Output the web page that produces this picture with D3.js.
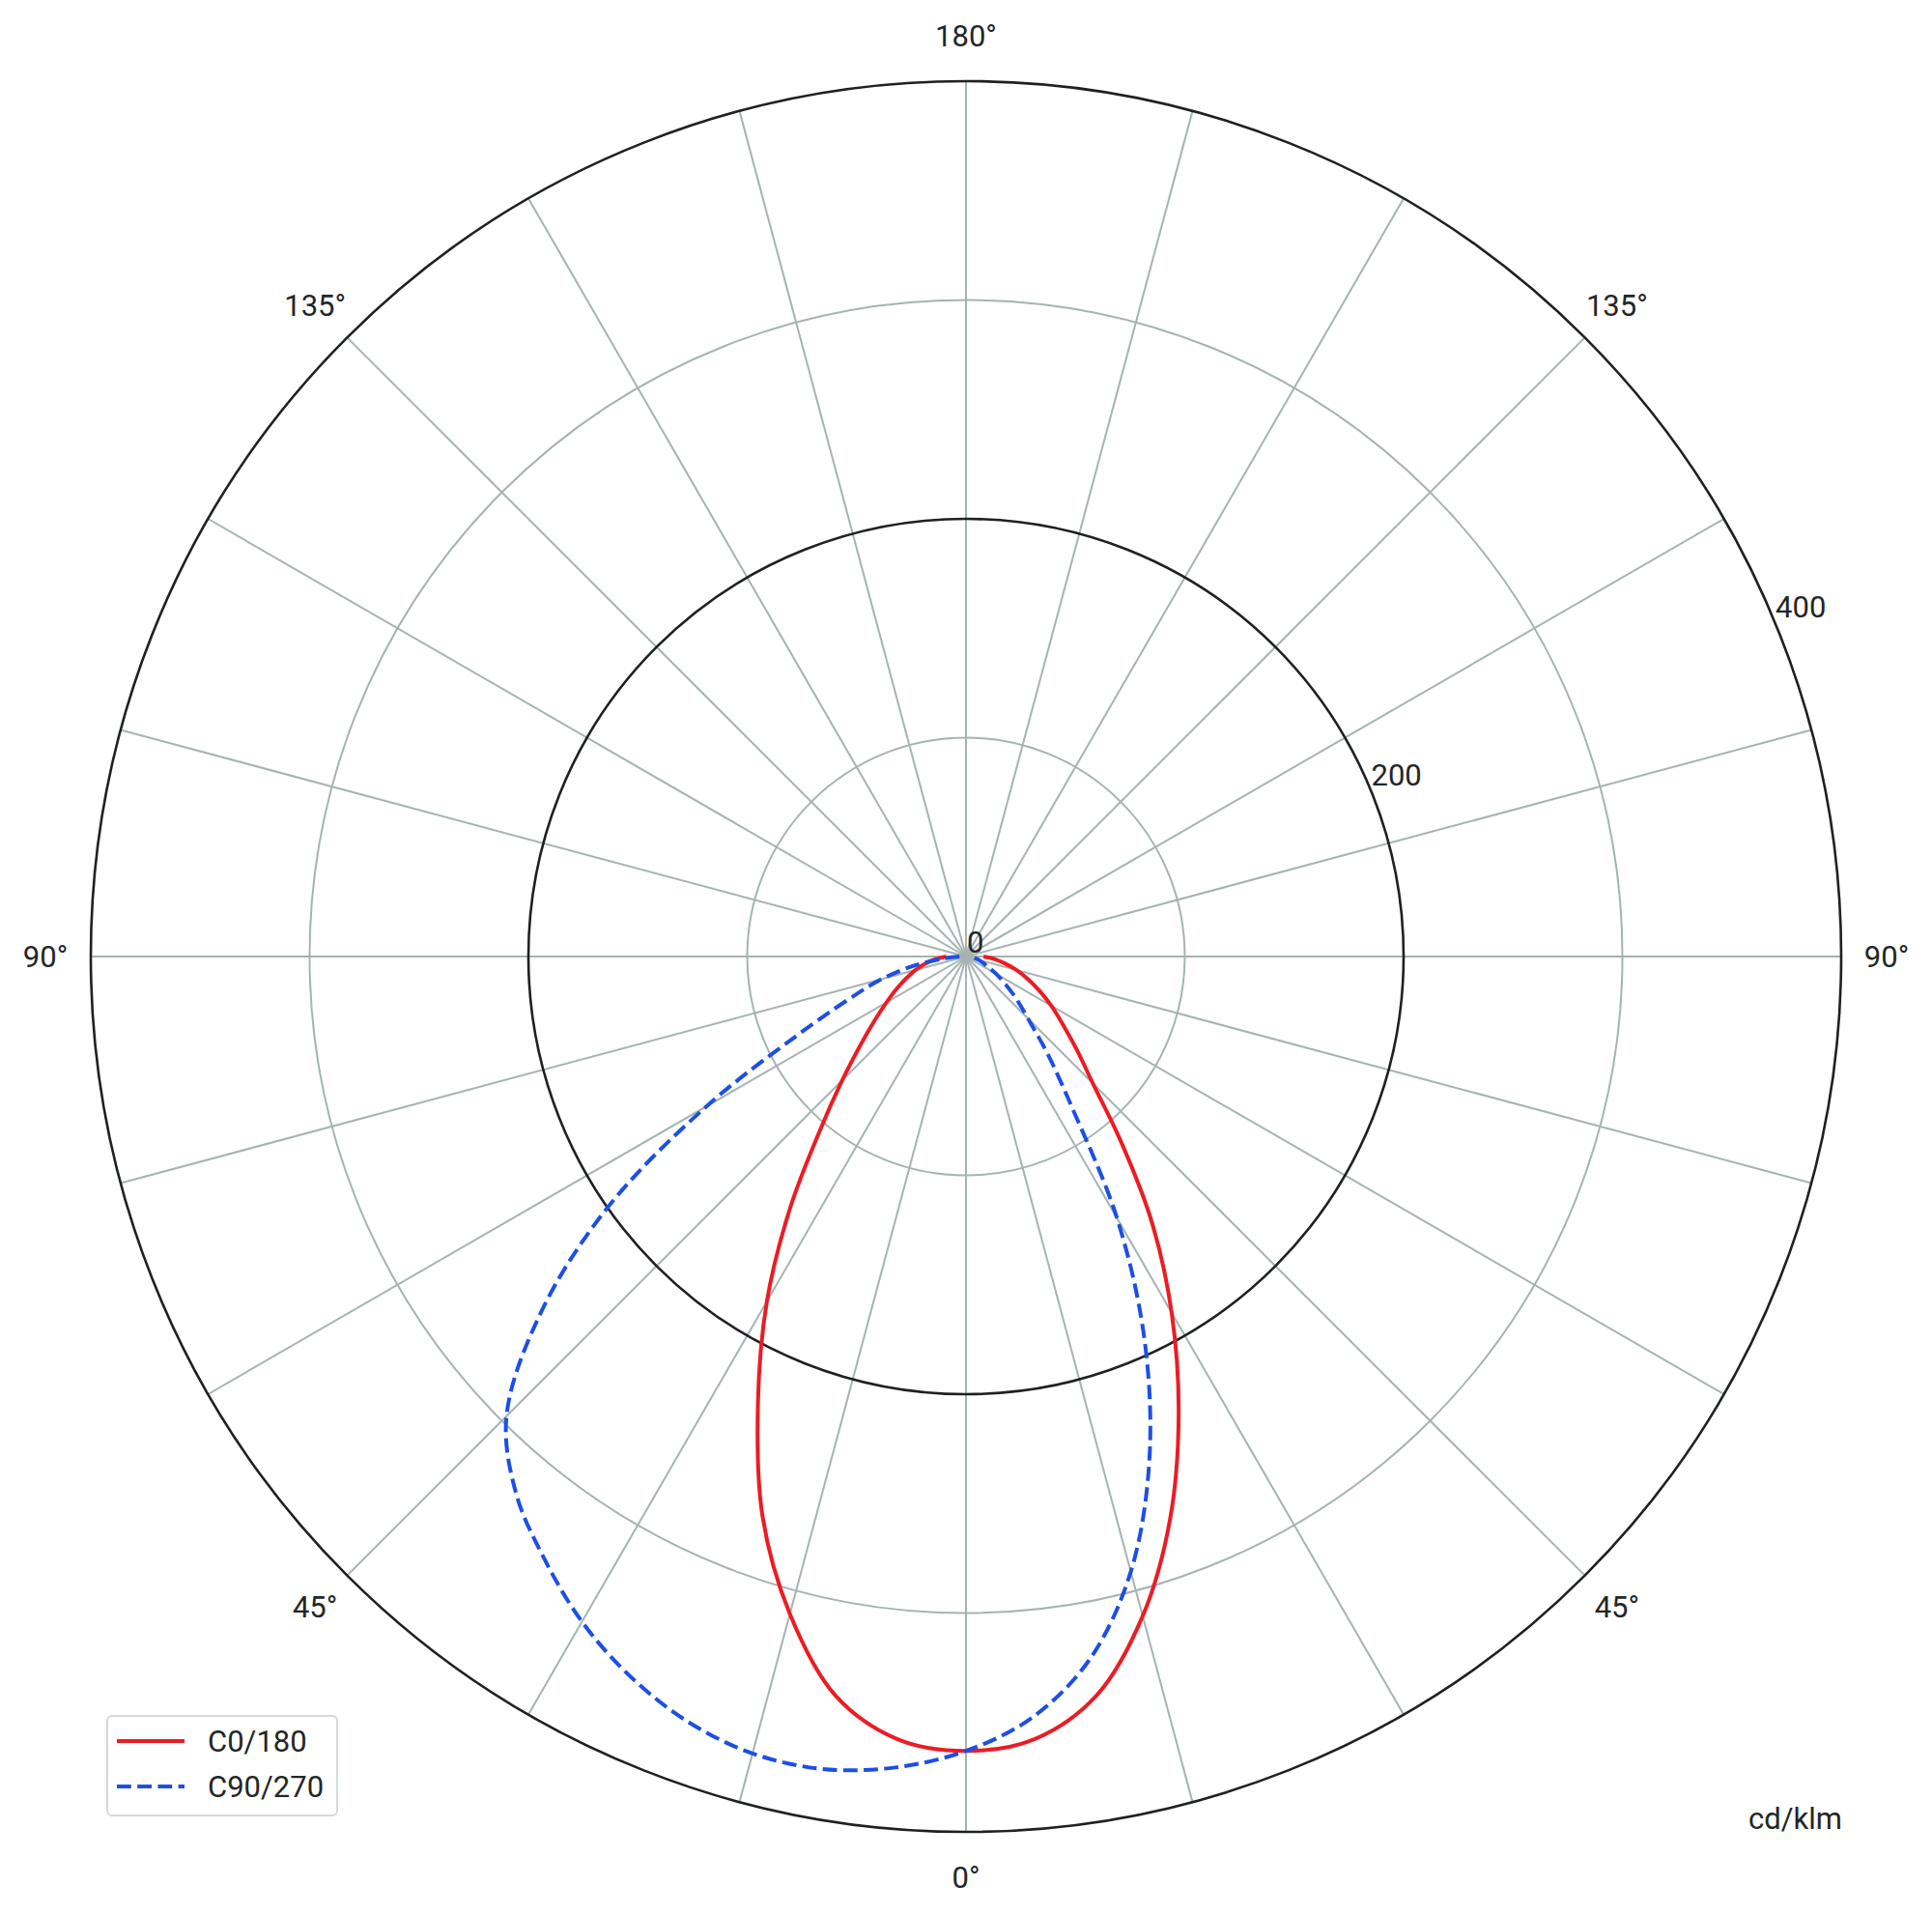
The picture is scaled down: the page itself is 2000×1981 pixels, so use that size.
<!DOCTYPE html>
<html>
<head>
<meta charset="utf-8">
<script src="https://cdn.jsdelivr.net/npm/d3@7"></script>
<style>
  html, body { margin: 0; padding: 0; background: #fff; }
  text { font-family: Roboto, "Liberation Sans", sans-serif; fill: #232628; }
</style>
</head>
<body>
<div id="chart"></div>
<script>
// gamma angles (deg from nadir), one value per angle for each half plane
const gammaAngles = [0, 5, 10, 15, 20, 25, 30, 35, 40, 45, 50, 55, 60, 65, 70, 75, 80, 85, 90];
const c0Values   = [363, 359, 343, 312, 273, 230, 188, 148, 110, 82, 66, 54, 45, 37, 30, 24, 18, 13, 8];
const c180Values = [363, 359, 343, 311, 272, 225, 182, 140, 104, 80, 63, 51, 42, 35, 29, 24, 19, 14, 9];
const c90Values  = [363, 349, 326, 291, 245, 193, 138, 85, 58, 40, 30, 22, 16, 11, 8, 6, 4, 3, 2];
const c270Values = [363, 372, 377, 377, 372, 363, 351, 336, 320, 297, 254, 200, 137, 85, 57, 40, 24, 10, 3];

const radialGrid = [100, 200, 300, 400];
const radialDark = [200, 400];
const radialLabels = [0, 200, 400];
const spokeAngles = d3.range(0, 360, 15);
const angleLabelValues = [0, 45, 90, 135, 180];

const seriesNames = ['C0/180', 'C90/270'];
const seriesColors = ['#ec1c24', '#1d4fe4'];

const width = 2000, height = 1981;
const cx = 1000, cy = 990;

const svg = d3.select('#chart').append('svg')
    .attr('width', width)
    .attr('height', height);

const r = d3.scaleLinear().domain([0, 400]).range([0, 906]);

const g = svg.append('g').attr('transform', `translate(${cx},${cy})`);

// screen angle (radians, clockwise from top) for a gamma on right / left side
const rightAngle = gm => Math.PI - gm * Math.PI / 180;
const leftAngle = gm => Math.PI + gm * Math.PI / 180;

// spokes
g.selectAll('.spoke')
    .data(spokeAngles)
    .enter()
    .append('line')
    .attr('x1', 0).attr('y1', 0)
    .attr('x2', d => r(400) * Math.sin(d * Math.PI / 180))
    .attr('y2', d => -r(400) * Math.cos(d * Math.PI / 180))
    .style('stroke', '#a7b3b3')
    .style('stroke-width', 2);

// circles
g.selectAll('.ring')
    .data(radialGrid)
    .enter()
    .append('circle')
    .attr('r', d => r(d))
    .style('fill', 'none')
    .style('stroke', d => radialDark.includes(d) ? '#1e2123' : '#a7b3b3')
    .style('stroke-width', d => radialDark.includes(d) ? 2.6 : 2);

// build curves: left side from 90 to 0, then right side from 0 to 90
function buildPoints(leftVals, rightVals) {
    const pts = [];
    for (let i = gammaAngles.length - 1; i >= 1; i--) {
        pts.push([leftAngle(gammaAngles[i]), r(leftVals[i])]);
    }
    gammaAngles.forEach((gm, i) => pts.push([rightAngle(gm), r(rightVals[i])]));
    return pts;
}

const radial = d3.lineRadial()
    .angle(d => d[0])
    .radius(d => d[1])
    .curve(d3.curveCatmullRom.alpha(0.5));

const curves = [
    buildPoints(c180Values, c0Values),
    buildPoints(c270Values, c90Values)
];

g.selectAll('.curve')
    .data(curves)
    .enter()
    .append('path')
    .attr('d', d => radial(d))
    .style('fill', 'none')
    .style('stroke', (d, i) => seriesColors[i])
    .style('stroke-width', 4)
    .style('stroke-dasharray', (d, i) => i === 1 ? '14.8,6.4' : null);

// angle labels on both sides
const labelR = 953;
const angleLabelData = [];
angleLabelValues.forEach(v => {
    angleLabelData.push({ v, a: rightAngle(v) });
    if (v !== 0 && v !== 180) angleLabelData.push({ v, a: leftAngle(v) });
});

g.selectAll('.alabel')
    .data(angleLabelData)
    .enter()
    .append('text')
    .attr('x', d => labelR * Math.sin(d.a))
    .attr('y', d => -labelR * Math.cos(d.a))
    .attr('text-anchor', 'middle')
    .attr('dominant-baseline', 'central')
    .style('font-size', '31px')
    .text(d => `${d.v}°`);

// radial labels at 22.5° above the right horizontal
const rlAngle = 67.5 * Math.PI / 180;
g.selectAll('.rlabel')
    .data(radialLabels)
    .enter()
    .append('text')
    .attr('x', d => r(d) * Math.sin(rlAngle) + 1)
    .attr('y', d => -r(d) * Math.cos(rlAngle) - 4)
    .style('font-size', '31px')
    .text(d => d);

// unit
svg.append('text')
    .attr('x', 1907)
    .attr('y', 1893)
    .attr('text-anchor', 'end')
    .style('font-size', '31px')
    .text('cd/klm');

// legend
const legend = svg.append('g').attr('transform', 'translate(111,1776)');
legend.append('rect')
    .attr('width', 238)
    .attr('height', 103)
    .attr('rx', 5)
    .style('fill', '#fff')
    .style('stroke', '#d2dadb')
    .style('stroke-width', 2);

seriesNames.forEach((name, i) => {
    const row = legend.append('g').attr('transform', `translate(0, ${26 + i * 47})`);
    row.append('line')
        .attr('x1', 10).attr('x2', 80)
        .attr('y1', 0).attr('y2', 0)
        .style('stroke', seriesColors[i])
        .style('stroke-width', 4)
        .style('stroke-dasharray', i === 1 ? '14.8,6.4' : null);
    row.append('text')
        .attr('x', 104)
        .attr('y', 0)
        .attr('dominant-baseline', 'central')
        .style('font-size', '31px')
        .text(name);
});
</script>
</body>
</html>
